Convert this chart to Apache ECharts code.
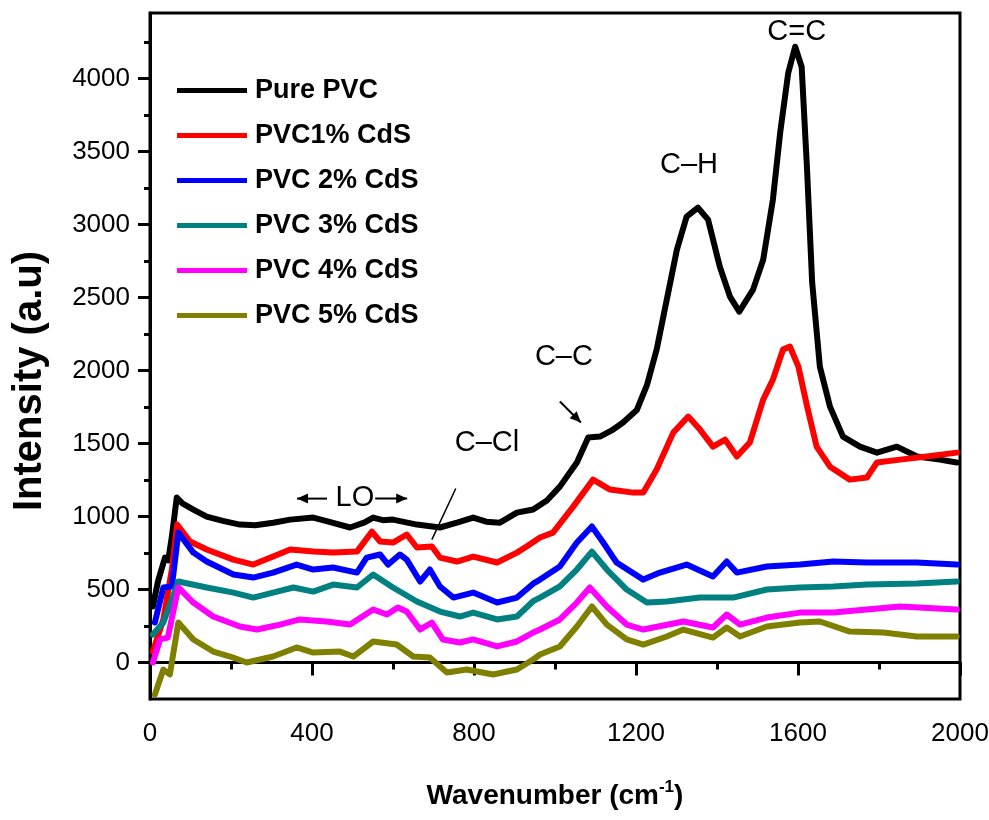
<!doctype html>
<html lang="en">
<head>
    <meta charset="UTF-8">
    <title>PVC CdS Raman</title>
    <style>
        html, body { margin: 0; padding: 0; background: #fff; }
        #main { width: 989px; height: 820px; }
    </style>
</head>
<body>
<div id="main"></div>
<script src="https://cdn.jsdelivr.net/npm/echarts@6/dist/echarts.min.js"></script>
<script type="text/javascript">
    // 读图得到的数据点 [波数, 强度]
    const purePVC = [[7,384],[20,560],[37,719],[45,700],[54,863],[66,1130],[80,1090],[107,1048],[140,1000],[180,970],[222,945],[260,940],[304,958],[346,979],[403,993],[436,968],[494,925],[530,960],[551,993],[575,975],[600,979],[659,945],[716,925],[760,960],[798,993],[830,965],[864,958],[906,1027],[946,1048],[980,1110],[1012,1205],[1054,1370],[1082,1541],[1111,1548],[1140,1590],[1168,1644],[1202,1730],[1227,1900],[1251,2144],[1276,2486],[1301,2829],[1325,3055],[1353,3116],[1378,3034],[1407,2712],[1432,2507],[1455,2404],[1489,2555],[1514,2760],[1538,3171],[1556,3630],[1576,4041],[1593,4219],[1609,4082],[1622,3397],[1635,2603],[1654,2027],[1679,1753],[1711,1548],[1753,1479],[1795,1438],[1844,1479],[1894,1411],[1950,1390],[1992,1370]]
    const pvc1 = [[7,75],[33,295],[54,637],[67,945],[99,829],[140,774],[206,705],[255,671],[304,726],[346,774],[403,760],[452,753],[511,760],[548,897],[568,829],[600,822],[634,877],[659,788],[696,795],[716,719],[758,692],[798,726],[857,685],[906,753],[930,795],[963,856],[995,890],[1045,1068],[1094,1253],[1136,1185],[1193,1164],[1218,1164],[1251,1322],[1292,1575],[1329,1685],[1358,1596],[1390,1479],[1420,1527],[1449,1411],[1481,1507],[1514,1801],[1538,1938],[1563,2144],[1580,2165],[1601,2027],[1622,1760],[1646,1479],[1679,1342],[1728,1253],[1770,1267],[1795,1370],[1852,1390],[1918,1411],[1992,1438]]
    const pvc2 = [[12,274],[33,514],[54,521],[70,890],[107,753],[140,692],[206,603],[255,582],[304,616],[362,671],[403,637],[452,651],[511,616],[535,719],[568,740],[588,671],[617,740],[634,705],[667,555],[691,637],[716,521],[749,445],[798,479],[857,411],[906,445],[946,540],[963,568],[1012,658],[1054,822],[1091,932],[1119,822],[1152,685],[1218,568],[1259,616],[1325,671],[1390,589],[1424,692],[1449,616],[1523,658],[1605,671],[1687,692],[1770,685],[1893,685],[1992,671]]
    const pvc3 = [[7,192],[33,274],[57,452],[70,555],[140,514],[206,479],[255,445],[304,479],[354,514],[403,486],[452,534],[511,514],[551,603],[600,514],[659,418],[716,349],[765,315],[798,342],[857,295],[906,315],[946,420],[963,445],[1012,521],[1054,637],[1091,760],[1128,637],[1177,500],[1227,411],[1276,418],[1358,445],[1440,445],[1523,500],[1605,514],[1687,521],[1770,534],[1893,541],[1992,555]]
    const pvc4 = [[7,0],[25,158],[44,171],[70,514],[107,411],[156,315],[222,247],[264,226],[321,260],[370,295],[436,281],[494,260],[551,363],[585,329],[612,377],[634,349],[667,226],[696,274],[723,158],[765,137],[798,158],[857,110],[906,144],[946,205],[963,226],[1012,295],[1054,411],[1086,514],[1128,384],[1177,260],[1218,226],[1317,281],[1390,240],[1424,329],[1457,260],[1523,308],[1605,342],[1687,342],[1770,363],[1852,384],[1992,363]]
    const pvc5 = [[12,-220],[33,-48],[49,-82],[70,274],[107,158],[156,75],[198,41],[239,0],[304,41],[362,103],[403,68],[469,75],[502,41],[551,144],[609,123],[650,41],[691,34],[733,-68],[782,-48],[847,-82],[906,-48],[946,21],[963,55],[1012,110],[1054,247],[1091,384],[1128,260],[1177,158],[1218,123],[1276,178],[1317,226],[1390,171],[1424,240],[1457,178],[1523,247],[1605,274],[1654,281],[1728,212],[1811,205],[1893,178],[1992,178]]

    const seriesNames = ['Pure PVC', 'PVC1% CdS', 'PVC 2% CdS', 'PVC 3% CdS', 'PVC 4% CdS', 'PVC 5% CdS']
    const seriesColors = ['#000000', '#ff0000', '#0000ff', '#008080', '#ff00ff', '#808000']
    const seriesData = [purePVC, pvc1, pvc2, pvc3, pvc4, pvc5]

    const yMajor = [0, 500, 1000, 1500, 2000, 2500, 3000, 3500, 4000]
    const yMinor = [250, 750, 1250, 1750, 2250, 2750, 3250, 3750, 4250]

    // 标注 (数据坐标)
    const labels = [
        { text: 'C=C', at: [1597, 4322] },
        { text: 'C\u2013H', at: [1331, 3411] },
        { text: 'C\u2013C', at: [1022, 2096] },
        { text: 'C\u2013Cl', at: [832, 1507] },
        { text: 'LO', at: [506, 1125] }
    ]
    const arrows = [
        { from: [1012, 1788], to: [1064, 1644], head: true },
        { from: [437, 1123], to: [363, 1123], head: true },
        { from: [556, 1123], to: [635, 1123], head: true },
        { from: [755, 1192], to: [696, 842], head: false }
    ]

    const font = '"Liberation Sans", Arial, sans-serif'
    const myChart = echarts.init(document.getElementById('main'))

    const option = {
        animation: false,
        grid: { left: 150, right: 29, top: 13, bottom: 121, outerBoundsMode: 'none', show: true, borderColor: '#000', borderWidth: 3 },
        legend: {
            orient: 'vertical', left: 172, top: 72,
            icon: 'rect', itemWidth: 70, itemHeight: 5, itemGap: 18,
            data: seriesNames,
            textStyle: { fontFamily: font, fontWeight: 'bold', fontSize: 27, color: '#000', padding: [0, 0, 0, 3] }
        },
        xAxis: {
            type: 'value', min: 0, max: 2000, interval: 400,
            name: 'Wavenumber (cm{sup|-1})', nameLocation: 'middle', nameGap: 80,
            nameTextStyle: {
                fontFamily: font, fontWeight: 'bold', fontSize: 28, color: '#000',
                rich: { sup: { fontFamily: font, fontWeight: 'bold', fontSize: 17, color: '#000', padding: [0, 0, 18, 0] } }
            },
            axisLine: { lineStyle: { color: '#000', width: 3 } },
            axisTick: { length: 13, lineStyle: { width: 3, color: '#000' } },
            minorTick: { show: true, splitNumber: 2, length: 7, lineStyle: { width: 3, color: '#000' } },
            splitLine: { show: false },
            axisLabel: { fontFamily: font, fontSize: 26, color: '#000', margin: 22, formatter: v => String(v) }
        },
        yAxis: [
            {
                type: 'value', min: -250, max: 4450,
                name: 'Intensity (a.u)', nameLocation: 'middle', nameGap: 100,
                nameTextStyle: { fontFamily: font, fontWeight: 'bold', fontSize: 40, color: '#000', padding: [0, 50, 0, 0] },
                axisLine: { show: true, lineStyle: { color: '#000', width: 3 } },
                axisTick: { show: true, length: 12, customValues: yMajor, lineStyle: { width: 3, color: '#000' } },
                axisLabel: { customValues: yMajor, fontFamily: font, fontSize: 26, color: '#000', margin: 20, formatter: v => String(v) },
                splitLine: { show: false }
            },
            {
                type: 'value', min: -250, max: 4450, position: 'left',
                axisLine: { show: false },
                axisTick: { show: true, length: 6, customValues: yMinor, lineStyle: { width: 3, color: '#000' } },
                axisLabel: { show: false },
                splitLine: { show: false }
            }
        ],
        series: seriesNames.map((name, i) => ({
            name: name,
            type: 'line',
            data: seriesData[i],
            showSymbol: false,
            symbol: 'none',
            color: seriesColors[i],
            lineStyle: { width: 6, color: seriesColors[i], join: 'round', cap: 'round' },
            z: 2 + i
        }))
    }
    myChart.setOption(option)

    // 标注文字与箭头
    const px = p => myChart.convertToPixel({ gridIndex: 0 }, p)
    const graphics = []
    labels.forEach(l => {
        const p = px(l.at)
        graphics.push({
            type: 'text', x: p[0], y: p[1], z: 100,
            style: { text: l.text, font: '29px ' + font, fill: '#000', align: 'center', verticalAlign: 'middle' }
        })
    })
    arrows.forEach(a => {
        const p0 = px(a.from), p1 = px(a.to)
        graphics.push({ type: 'line', z: 100, shape: { x1: p0[0], y1: p0[1], x2: p1[0], y2: p1[1] }, style: { stroke: '#000', lineWidth: a.head ? 2 : 1.5 } })
        if (a.head) {
            const ang = Math.atan2(p1[1] - p0[1], p1[0] - p0[0])
            const L = 11, W = 5
            const bx = p1[0] - L * Math.cos(ang), by = p1[1] - L * Math.sin(ang)
            graphics.push({
                type: 'polygon', z: 101,
                shape: { points: [[p1[0], p1[1]], [bx + W * Math.sin(ang), by - W * Math.cos(ang)], [bx - W * Math.sin(ang), by + W * Math.cos(ang)]] },
                style: { fill: '#000' }
            })
        }
    })
    myChart.setOption({ graphic: graphics })
</script>
</body>
</html>
